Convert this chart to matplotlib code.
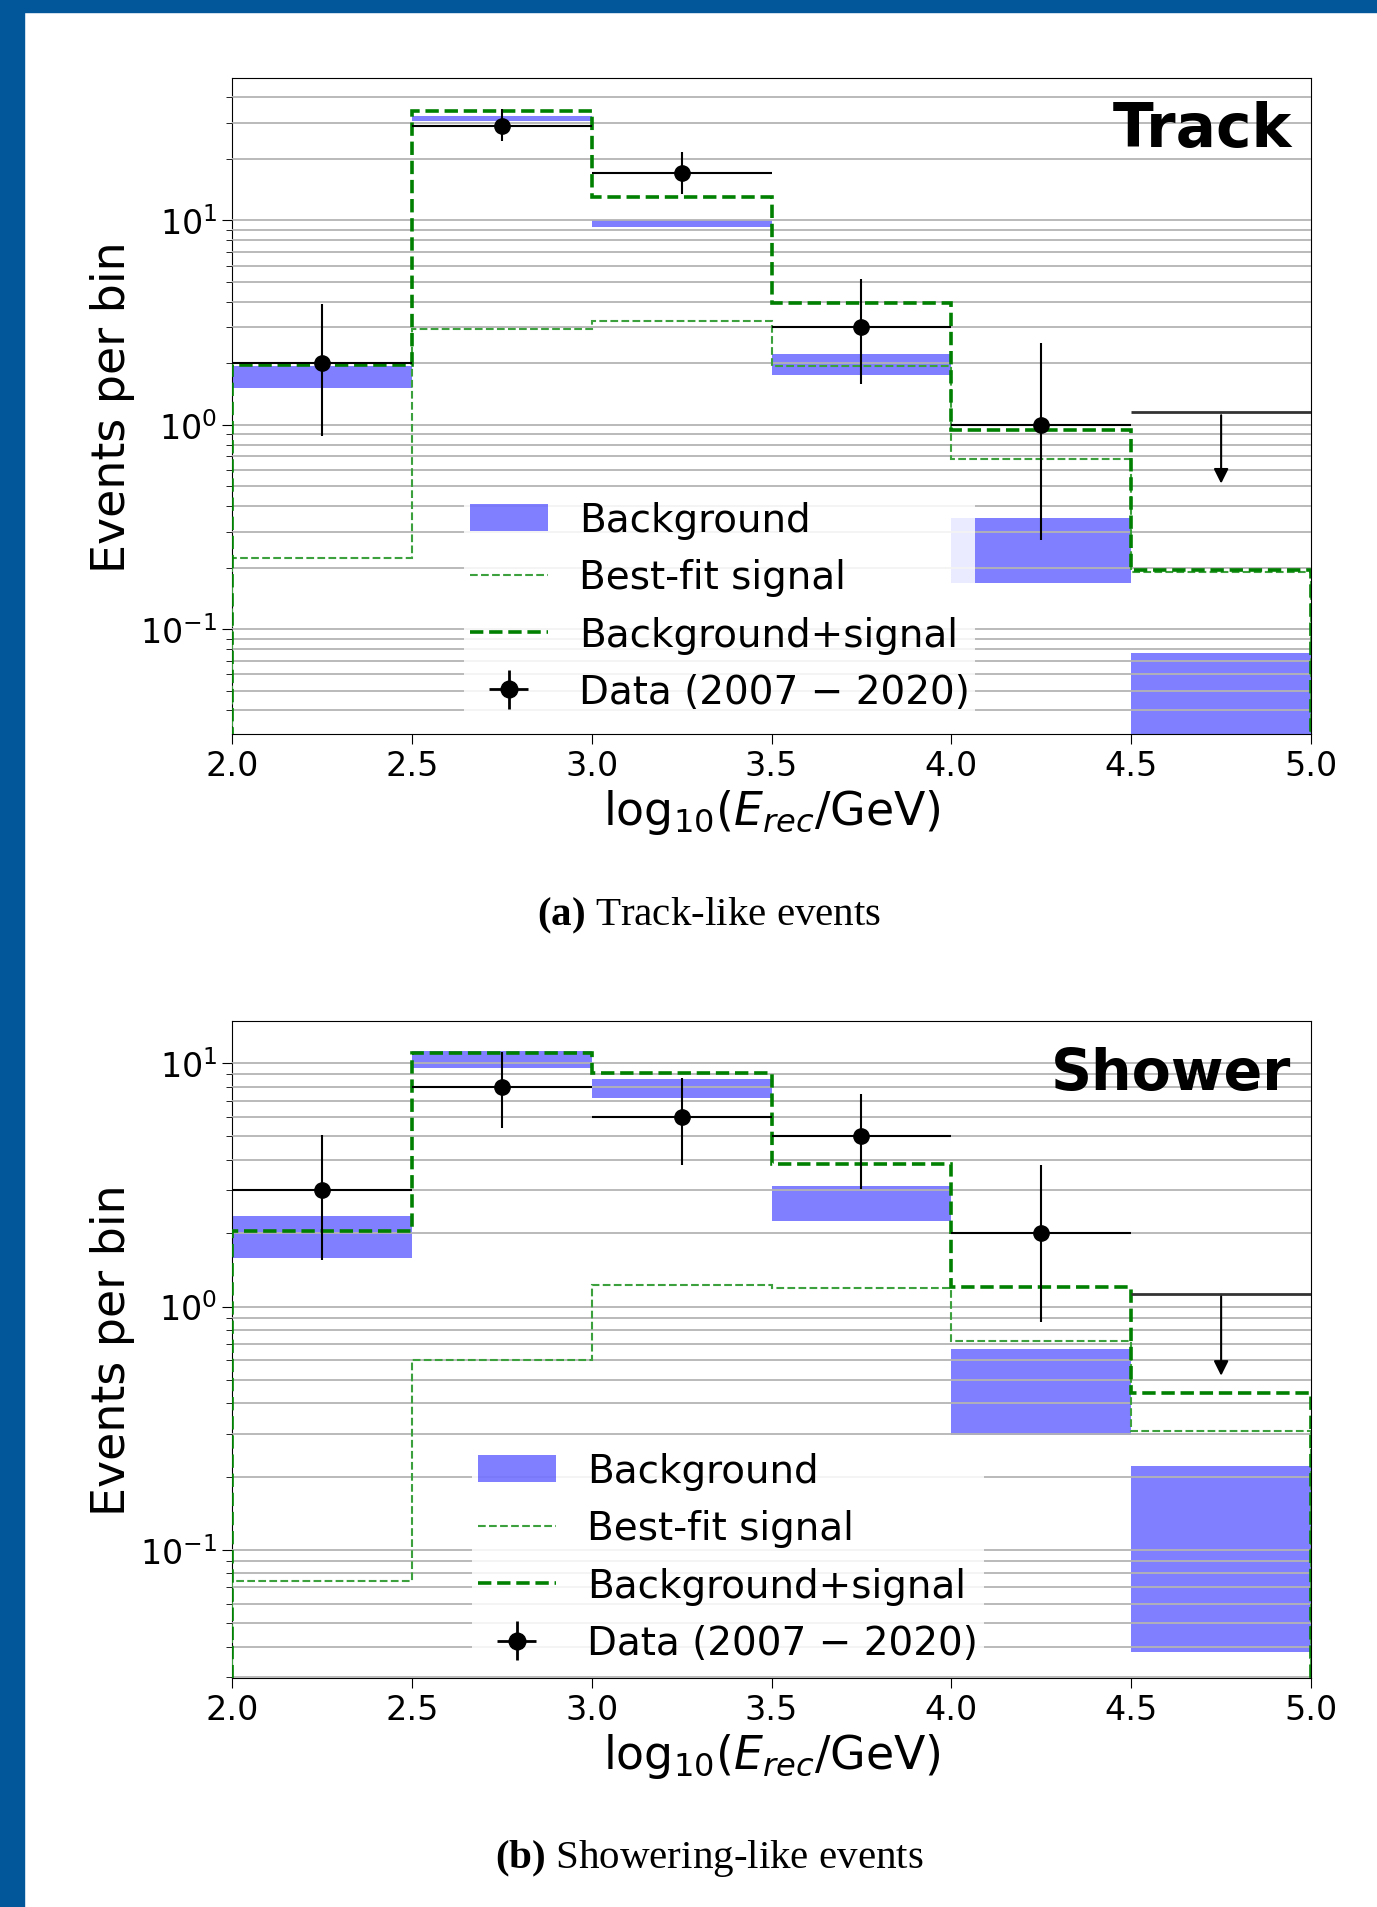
import matplotlib
matplotlib.use("Agg")
import matplotlib.pyplot as plt
from matplotlib.patches import Rectangle, Patch
from matplotlib.lines import Line2D
import numpy as np

# bin edges in log10(E_rec/GeV)
edges = [2.0, 2.5, 3.0, 3.5, 4.0, 4.5, 5.0]
x_ticks = [2.0, 2.5, 3.0, 3.5, 4.0, 4.5, 5.0]

# Track-like events
track_bkg_low = [1.52, 30.7, 9.25, 1.75, 0.168, 0.01]
track_bkg_high = [1.95, 32.3, 10.0, 2.22, 0.35, 0.0765]
track_signal = [0.223, 2.93, 3.22, 1.94, 0.68, 0.19]
track_total = [1.97, 34.4, 13.0, 3.94, 0.946, 0.195]
track_data = [2, 29, 17, 3, 1]
track_data_low = [0.88, 24.4, 13.5, 1.58, 0.274]
track_data_high = [3.88, 35.1, 21.7, 5.16, 2.51]
track_limit = [1.15, 0.50]  # upper limit in last bin, arrow tip

# Showering-like events
shower_bkg_low = [1.585, 9.55, 7.2, 2.24, 0.296, 0.038]
shower_bkg_high = [2.35, 11.2, 8.59, 3.12, 0.672, 0.222]
shower_signal = [0.0747, 0.60, 1.225, 1.19, 0.72, 0.308]
shower_total = [2.05, 10.97, 9.15, 3.87, 1.205, 0.439]
shower_data = [3, 8, 6, 5, 2]
shower_data_low = [1.55, 5.44, 3.82, 3.05, 0.866]
shower_data_high = [5.06, 11.1, 8.66, 7.5, 3.8]
shower_limit = [1.13, 0.506]

plt.rcParams['font.family'] = 'DejaVu Sans'
plt.rcParams['mathtext.fontset'] = 'custom'
plt.rcParams['mathtext.rm'] = 'DejaVu Sans'
plt.rcParams['mathtext.it'] = 'DejaVu Sans:italic'
plt.rcParams['mathtext.bf'] = 'Liberation Serif:bold'


def draw_panel(ax, bkg_low, bkg_high, signal, total, data, data_low, data_high,
               limit, ylim, name, name_size, legend_anchor):
    edges_a = np.array(edges)
    centers = (edges_a[:-1] + edges_a[1:]) / 2
    width = edges_a[1:] - edges_a[:-1]
    low = np.array(bkg_low)
    high = np.array(bkg_high)

    # background band
    ax.bar(centers, high - low, bottom=low, width=width, color='blue',
           alpha=0.5, linewidth=0, zorder=1)

    # signal and background+signal histograms
    ax.stairs(signal, edges, baseline=0, color='#3ca03c', ls='--', lw=1.5,
              zorder=3)
    ax.stairs(total, edges, baseline=0, color='green', ls='--', lw=2.6,
              zorder=3)

    # data points
    n = len(data)
    d = np.array(data, dtype=float)
    yerr = [d - np.array(data_low), np.array(data_high) - d]
    ax.errorbar(centers[:n], d, xerr=width[:n] / 2, yerr=yerr, fmt='o',
                color='black', ms=11, elinewidth=1.5, capsize=0, zorder=4)

    # upper limit in the last bin
    ax.hlines(limit[0], edges[-2], edges[-1], color='#333333', lw=2, zorder=4)
    ax.annotate('', xy=(centers[-1], limit[1]), xytext=(centers[-1], limit[0]),
                arrowprops=dict(arrowstyle='-|>', color='black', lw=1.5,
                                mutation_scale=22), zorder=4)

    ax.set_yscale('log')
    ax.set_xlim(edges[0], edges[-1])
    ax.set_ylim(*ylim)
    ax.set_xticks(x_ticks)
    ax.set_xticklabels([f'{t:.1f}' for t in x_ticks])
    ax.tick_params(axis='both', which='major', labelsize=24, length=7)
    ax.tick_params(axis='y', which='minor', length=4)
    ax.grid(True, axis='y', which='both', color='#b4b4b4', lw=1.3, zorder=2)
    ax.set_axisbelow(False)
    ax.set_xlabel(r'log$_{10}$($E_{rec}$/GeV)', fontsize=33)
    ax.set_ylabel('Events per bin', fontsize=33)

    ax.text(0.982, 0.896, name, transform=ax.transAxes, ha='right',
            va='baseline', fontsize=name_size, fontweight='bold', zorder=5)

    handles = [
        Patch(facecolor='blue', alpha=0.5, linewidth=0),
        Line2D([], [], color='#3ca03c', ls='--', lw=1.5),
        Line2D([], [], color='green', ls='--', lw=2.6),
    ]
    data_h = ax.errorbar([], [], xerr=[], yerr=[], fmt='o', color='black',
                         ms=12, elinewidth=2)
    handles.append(data_h)
    labels = ['Background', 'Best-fit signal', 'Background+signal',
              'Data (2007 \u2212 2020)']
    leg = ax.legend(handles, labels, loc='lower left',
                    bbox_to_anchor=legend_anchor, borderaxespad=0,
                    fontsize=28, framealpha=0.85, borderpad=0.15,
                    edgecolor='none', fancybox=False)
    leg.set_zorder(6)


fig = plt.figure(figsize=(13.77, 19.08), dpi=100)

# slide frame in blue
fig.patches.append(Rectangle((0, 0), 24 / 1377, 1, transform=fig.transFigure,
                             color='#02569a', zorder=0))
fig.patches.append(Rectangle((0, 1 - 13 / 1908), 1, 13 / 1908,
                             transform=fig.transFigure, color='#02569a',
                             zorder=0))

ax1 = fig.add_axes([0.1685, 0.6148, 0.7836, 0.3438])
ax2 = fig.add_axes([0.1685, 0.1200, 0.7836, 0.3443])

draw_panel(ax1, track_bkg_low, track_bkg_high, track_signal, track_total,
           track_data, track_data_low, track_data_high, track_limit,
           (0.0307, 49.8), 'Track', 43, (0.215, 0.026))
draw_panel(ax2, shower_bkg_low, shower_bkg_high, shower_signal, shower_total,
           shower_data, shower_data_low, shower_data_high, shower_limit,
           (0.0297, 14.9), 'Shower', 41, (0.2225, 0.015))

# captions
fig.text(0.515, 0.520, r'$\mathbf{(a)}$ Track-like events', ha='center',
         va='center', fontsize=29.5, family='Liberation Serif')
fig.text(0.515, 0.0257, r'$\mathbf{(b)}$ Showering-like events', ha='center',
         va='center', fontsize=29.5, family='Liberation Serif')

fig.savefig('out.png', dpi=100)
